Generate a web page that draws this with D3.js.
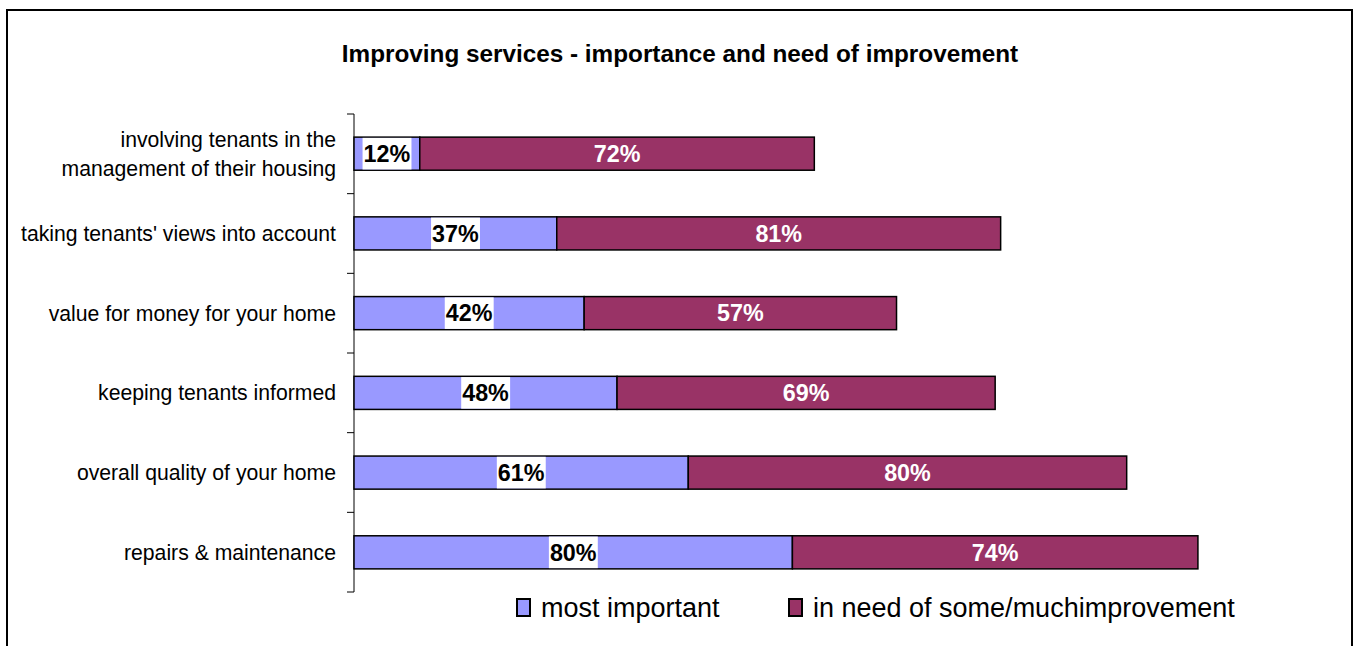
<!DOCTYPE html>
<html><head><meta charset="utf-8">
<script src="https://cdn.jsdelivr.net/npm/d3@7"></script>
<style>body{margin:0;background:#fff}svg{display:block}text{font-family:"Liberation Sans",Arial,sans-serif}</style>
</head><body><svg id="c" width="1359" height="646"></svg>
<script>
const categories = ["involving tenants in the|management of their housing","taking tenants' views into account","value for money for your home","keeping tenants informed","overall quality of your home","repairs & maintenance"];
const mostImportant = [12,37,42,48,61,80];
const needImprovement = [72,81,57,69,80,74];
const seriesNames = ["most important","in need of some/muchimprovement"];
const colors = ["#9999FF","#993366"];

const svg = d3.select("#c");
svg.append("rect").attr("x",7).attr("y",10).attr("width",1345).attr("height",660).attr("fill","none").attr("stroke","#000").attr("stroke-width",2);

svg.append("text").attr("x",680).attr("y",62).attr("text-anchor","middle").attr("font-weight","bold").attr("font-size",24.3).text("Improving services - importance and need of improvement");

const x = d3.scaleLinear().domain([0,100]).range([354,354+548]);
const y = d3.scaleBand().domain(categories).range([114,592]).paddingInner(0.585).paddingOuter(0.29);

// axis
const ax = svg.append("g").attr("transform","translate(354,0)");
ax.append("line").attr("x1",0).attr("x2",0).attr("y1",114).attr("y2",592).attr("stroke","#000").attr("stroke-width",1);
const tickY = d3.range(categories.length+1).map(i=>114+i*(592-114)/categories.length);
ax.selectAll("line.t").data(tickY).join("line").attr("class","t").attr("x1",-7).attr("x2",0).attr("y1",d=>d).attr("y2",d=>d).attr("stroke","#000");

// category labels
categories.forEach(c=>{
  const lines=c.split("|");
  const cy=y(c)+y.bandwidth()/2;
  const t=svg.append("text").attr("x",336).attr("text-anchor","end").attr("font-size",21.2).attr("fill","#000");
  lines.forEach((l,i)=>{
    t.append("tspan").attr("x",336).attr("y",cy+7.5+(i-(lines.length-1)/2)*29).text(l);
  });
});

const rows = categories.map((c,i)=>({c,a:mostImportant[i],b:needImprovement[i]}));
const g = svg.append("g");
rows.forEach(r=>{
  const y0=y(r.c), h=y.bandwidth();
  g.append("rect").attr("x",x(0)).attr("y",y0).attr("width",x(r.a)-x(0)).attr("height",h).attr("fill",colors[0]).attr("stroke","#000").attr("stroke-width",1.5);
  g.append("rect").attr("x",x(r.a)).attr("y",y0).attr("width",x(r.a+r.b)-x(r.a)).attr("height",h).attr("fill",colors[1]).attr("stroke","#000").attr("stroke-width",1.5);
  const cx1=(x(0)+x(r.a))/2;
  const t1=g.append("text").attr("x",cx1).attr("y",y0+h/2+8.2).attr("text-anchor","middle").attr("font-weight","bold").attr("font-size",23.3).attr("fill","#000").text(r.a+"%");
  const bb=t1.node().getBBox();
  g.insert("rect","text:last-of-type").attr("x",bb.x-1).attr("y",y0+0.75).attr("width",bb.width+2).attr("height",h-1.5).attr("fill","#fff");
  t1.raise();
  const cx2=(x(r.a)+x(r.a+r.b))/2;
  g.append("text").attr("x",cx2).attr("y",y0+h/2+8.2).attr("text-anchor","middle").attr("font-weight","bold").attr("font-size",23.3).attr("fill","#fff").text(r.b+"%");
});

// legend
const lg=svg.append("g");
const lx=[517,789];
seriesNames.forEach((s,i)=>{
  lg.append("rect").attr("x",lx[i]).attr("y",599).attr("width",13).attr("height",17).attr("fill",colors[i]).attr("stroke","#000").attr("stroke-width",2);
  lg.append("text").attr("x",lx[i]+24).attr("y",617).attr("font-size",27).attr("fill","#000").text(s);
});
</script></body></html>
